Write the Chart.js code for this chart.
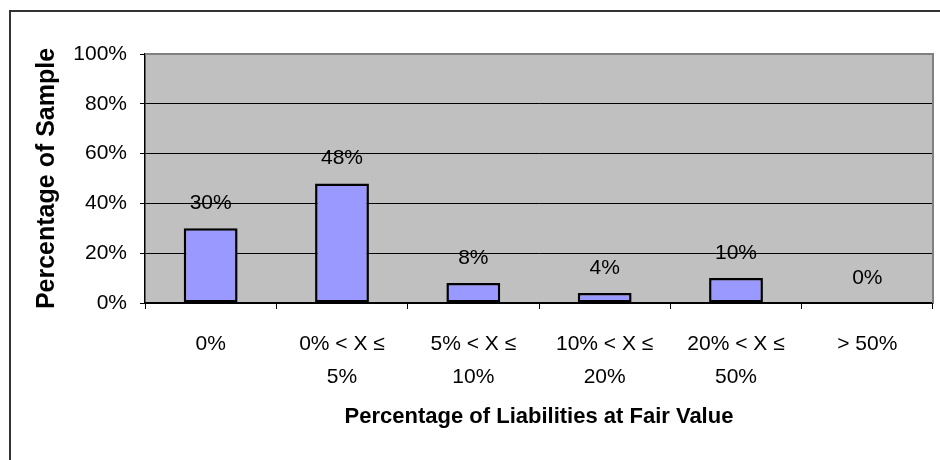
<!DOCTYPE html>
<html>
<head>
<meta charset="utf-8">
<script src="https://cdn.jsdelivr.net/npm/chart.js@4"></script>
<style>
  body { margin: 0; background: #fff; }
  #wrap { width: 940px; height: 460px; }
</style>
</head>
<body>
<div id="wrap"><canvas id="myChart" width="940" height="460"></canvas></div>
<script>
let labels = [["0%"], ["0% < X ≤", "5%"], ["5% < X ≤", "10%"], ["10% < X ≤", "20%"], ["20% < X ≤", "50%"], ["> 50%"]];
let values = [30, 48, 8, 4, 10, 0];
let yTicks = [0, 20, 40, 60, 80, 100];

const fontName = "'Liberation Sans', Arial, sans-serif";

// grey plot area, outer frame, value labels
const excelLook = {
  id: "excelLook",
  beforeDraw(chart) {
    const c = chart.ctx;
    const a = chart.chartArea;
    c.save();
    c.fillStyle = "#fff";
    c.fillRect(0, 0, chart.width, chart.height);
    c.strokeStyle = "#333";
    c.lineWidth = 2;
    c.strokeRect(10, 11, chart.width + 10, chart.height + 10);
    c.fillStyle = "#c0c0c0";
    c.fillRect(a.left, a.top, a.right - a.left, a.bottom - a.top);
    c.restore();
  },
  afterDatasetsDraw(chart) {
    const c = chart.ctx;
    const a = chart.chartArea;
    c.save();
    c.strokeStyle = "#808080";
    c.lineWidth = 2;
    c.beginPath();
    c.moveTo(a.left, a.top);
    c.lineTo(a.right, a.top);
    c.lineTo(a.right, a.bottom);
    c.stroke();
    const meta = chart.getDatasetMeta(0);
    c.fillStyle = "#000";
    c.font = "21px " + fontName;
    c.textAlign = "center";
    c.textBaseline = "alphabetic";
    meta.data.forEach((bar, i) => {
      c.fillText(values[i] + "%", bar.x, bar.y - 19);
    });
    c.restore();
  },
};

var ctx = document.getElementById("myChart");
var barChart = new Chart(ctx, {
  type: "bar",
  data: {
    labels: labels,
    datasets: [
      {
        label: "Percentage of Sample",
        data: values,
        backgroundColor: "#9999ff",
        borderColor: "#000",
        borderWidth: 2.5,
        borderSkipped: false,
        barPercentage: 0.41,
        categoryPercentage: 1,
      },
    ],
  },
  options: {
    responsive: false,
    animation: false,
    layout: {
      padding: { left: 0, top: 54, right: 7, bottom: 0 },
    },
    plugins: {
      legend: { display: false },
      tooltip: { enabled: false },
    },
    scales: {
      x: {
        afterFit(scale) {
          scale.height = 157;
        },
        grid: {
          drawOnChartArea: false,
          offset: true,
          tickLength: 6,
          color: "#000",
        },
        border: { color: "#000", width: 1.5 },
        ticks: {
          color: "#000",
          padding: 19,
          maxRotation: 0,
          font: { family: fontName, size: 21, lineHeight: 1.55 },
        },
        title: {
          display: true,
          text: "Percentage of Liabilities at Fair Value",
          color: "#000",
          font: { family: fontName, size: 22, weight: "bold" },
          padding: { top: 0, bottom: 30 },
        },
      },
      y: {
        min: 0,
        max: 100,
        afterFit(scale) {
          scale.width = 145;
        },
        afterBuildTicks(scale) {
          scale.ticks = yTicks.map((v) => ({ value: v }));
        },
        grid: {
          color: "#000",
          tickLength: 5,
        },
        border: { color: "#000", width: 1.5 },
        ticks: {
          color: "#000",
          padding: 13,
          font: { family: fontName, size: 21 },
          callback: (v) => v + "%",
        },
        title: {
          display: true,
          text: "Percentage of Sample",
          color: "#000",
          font: { family: fontName, size: 25, weight: "bold" },
          padding: { top: 32, bottom: 0 },
        },
      },
    },
  },
  plugins: [excelLook],
});
</script>
</body>
</html>
